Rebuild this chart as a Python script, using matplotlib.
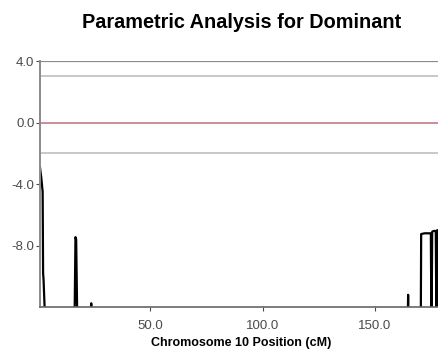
import matplotlib
matplotlib.use("Agg")
import matplotlib.pyplot as plt

# position (cM) and LOD score; values below -12 are off-axis
pos_cm = [1.0, 1.6, 2.2, 2.4, 2.6, 3.2, 3.6,
          16.3, 16.8, 17.1, 17.7,
          23.5, 23.8, 24.1,
          164.4, 164.7, 165.0,
          170.3, 170.5, 172.0, 174.8, 175.1, 175.4, 176.0, 177.0, 177.3, 177.6, 178.0, 178.8, 180.0]
lod = [-2.9, -3.6, -4.5, -9.8, -10.2, -12.5, -14.0,
       -14.0, -7.45, -7.6, -14.0,
       -14.0, -11.75, -14.0,
       -14.0, -11.2, -14.0,
       -14.0, -7.25, -7.2, -7.2, -14.0, -7.1, -7.05, -7.05, -14.0, -7.0, -7.0, -7.0, -6.9]

thresholds = [3.0, -2.0]
baseline = 0.0
y_ticks = [4.0, 0.0, -4.0, -8.0]
x_ticks = [50.0, 100.0, 150.0]

plt.rcParams["font.family"] = ["Liberation Sans", "DejaVu Sans"]

fig = plt.figure(figsize=(4.39, 3.53), dpi=100)
ax = fig.add_axes([0.091, 0.130, 0.915, 0.697])

ax.axhline(4.0, color="#8a8a8a", lw=1.6)
for t in thresholds:
    ax.axhline(t, color="#c8c8c8", lw=1.4)
ax.axhline(baseline, color="#c47a84", lw=1.2)

ax.plot(pos_cm, lod, color="black", lw=1.6)

ax.set_xlim(1, 179.6)
ax.set_ylim(-12, 4)
ax.set_xticks(x_ticks)
ax.set_xticklabels([f"{v:.1f}" for v in x_ticks])
ax.set_yticks(y_ticks)
ax.set_yticklabels([f"{v:.1f}" for v in y_ticks])
ax.tick_params(labelsize=9.5, colors="#4a4a4a", length=3, width=0.8)
ax.tick_params(axis="x", pad=6)
ax.tick_params(axis="y", pad=1)

for side in ["top", "right"]:
    ax.spines[side].set_visible(False)
ax.spines["left"].set_color("#8a8a8a")
ax.spines["left"].set_linewidth(1.4)
ax.spines["bottom"].set_color("#666666")
ax.spines["bottom"].set_linewidth(1.2)

ax.set_xlabel("Chromosome 10 Position (cM)", fontsize=9, fontweight="bold", labelpad=4)
fig.suptitle("Parametric Analysis for Dominant", fontsize=14.3, fontweight="bold",
             x=0.55, y=0.962)

fig.savefig("out.png", dpi=100)
